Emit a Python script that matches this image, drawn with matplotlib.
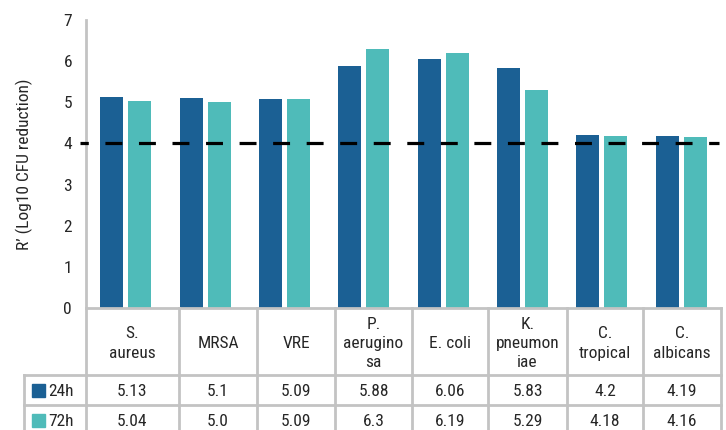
import matplotlib
matplotlib.use("Agg")
import matplotlib.pyplot as plt
from matplotlib import font_manager
from matplotlib.patches import Rectangle
import numpy as np

# ---- data ----
categories = ["S.\naureus", "MRSA", "VRE", "P.\naerugino\nsa", "E. coli",
              "K.\npneumon\niae", "C.\ntropical", "C.\nalbicans"]
series_names = ["24h", "72h"]
values_24h = [5.13, 5.1, 5.09, 5.88, 6.06, 5.83, 4.2, 4.19]
values_72h = [5.04, 5.0, 5.09, 6.3, 6.19, 5.29, 4.18, 4.16]
value_text_24h = ["5.13", "5.1", "5.09", "5.88", "6.06", "5.83", "4.2", "4.19"]
value_text_72h = ["5.04", "5.0", "5.09", "6.3", "6.19", "5.29", "4.18", "4.16"]
threshold = 4
y_ticks = [0, 1, 2, 3, 4, 5, 6, 7]
y_label = "R\u2019 (Log10 CFU reduction)"

# ---- style ----
available = {f.name for f in font_manager.fontManager.ttflist}
family = "DejaVu Sans"
for cand in ["Liberation Sans Narrow", "Roboto Condensed", "Open Sans Condensed"]:
    if cand in available:
        family = cand
        break
plt.rcParams["font.family"] = [family, "DejaVu Sans"]

c24 = "#1b6094"
c72 = "#4fbbb9"
grid_c = "#c3c3c3"
txt_c = "#262626"
fs = 12.5

W, H = 726, 430
fig = plt.figure(figsize=(W / 100, H / 100), dpi=100)

x_left, x_right, y_top, y_base = 86, 721, 20, 308
ax = fig.add_axes([x_left / W, 1 - y_base / H, (x_right - x_left) / W, (y_base - y_top) / H])

n = len(categories)
x = np.arange(n)
bw = 0.29
off = 0.177
ax.bar(x - off, values_24h, bw, color=c24, zorder=2)
ax.bar(x + off, values_72h, bw, color=c72, zorder=2)

ax.set_xlim(-0.5, n - 0.5)
ax.set_ylim(0, 7)
ax.set_yticks(y_ticks)
ax.set_yticklabels([str(t) for t in y_ticks], fontsize=fs, color=txt_c)
ax.tick_params(axis="y", length=0, pad=10)
ax.set_xticks([])
for s in ["top", "right", "bottom"]:
    ax.spines[s].set_visible(False)
ax.spines["left"].set_color(grid_c)
ax.spines["left"].set_linewidth(2)

# threshold line
thr_x0 = -0.5 - 6 / 79.4
thr_x1 = n - 0.5 - 2 / 79.4
ln, = ax.plot([thr_x0, thr_x1], [threshold, threshold], color="black", lw=2.3,
              clip_on=False, zorder=3, solid_capstyle="butt")
ln.set_linestyle((2.7, (5.3, 5.2)))
ln.set_dash_capstyle("butt")

ax.set_ylabel(y_label, fontsize=12.5, color=txt_c)
ax.yaxis.set_label_coords(-0.083, 0.5)

# ---- data table (figure pixel coordinates) ----
tab = fig.add_axes([0, 0, 1, 1])
tab.set_xlim(0, W)
tab.set_ylim(H, 0)
tab.axis("off")

col_edges = [86, 179, 257, 335, 412, 488, 567, 643, 721]
row_top, row1, row2, row3 = 308, 375, 405, 435
leg_left = 24
lw_t = 2.0

# horizontal rules
tab.plot([x_left, x_right], [row_top, row_top], color=grid_c, lw=lw_t)
for yy in (row1, row2):
    tab.plot([leg_left, x_right], [yy, yy], color=grid_c, lw=lw_t)
# vertical rules
for xe in col_edges:
    tab.plot([xe, xe], [row_top, row3], color=grid_c, lw=lw_t)
tab.plot([leg_left, leg_left], [row1, row3], color=grid_c, lw=lw_t)

# header labels and values
for i, name in enumerate(categories):
    cx = (col_edges[i] + col_edges[i + 1]) / 2
    tab.text(cx, (row_top + row1) / 2 + 2, name, ha="center", va="center",
             fontsize=fs, color=txt_c, linespacing=1.35)
    tab.text(cx, (row1 + row2) / 2 + 1, value_text_24h[i], ha="center", va="center",
             fontsize=fs, color=txt_c)
    tab.text(cx, (row2 + row3) / 2 + 1, value_text_72h[i], ha="center", va="center",
             fontsize=fs, color=txt_c)

# legend keys
for (yy0, yy1), col, name in zip([(row1, row2), (row2, row3)], [c24, c72], series_names):
    cy = (yy0 + yy1) / 2
    tab.add_patch(Rectangle((32, cy - 6.5), 13, 13, color=col))
    tab.text(48, cy + 1, name, ha="left", va="center", fontsize=fs, color=txt_c)

fig.savefig("out.png", dpi=100)
